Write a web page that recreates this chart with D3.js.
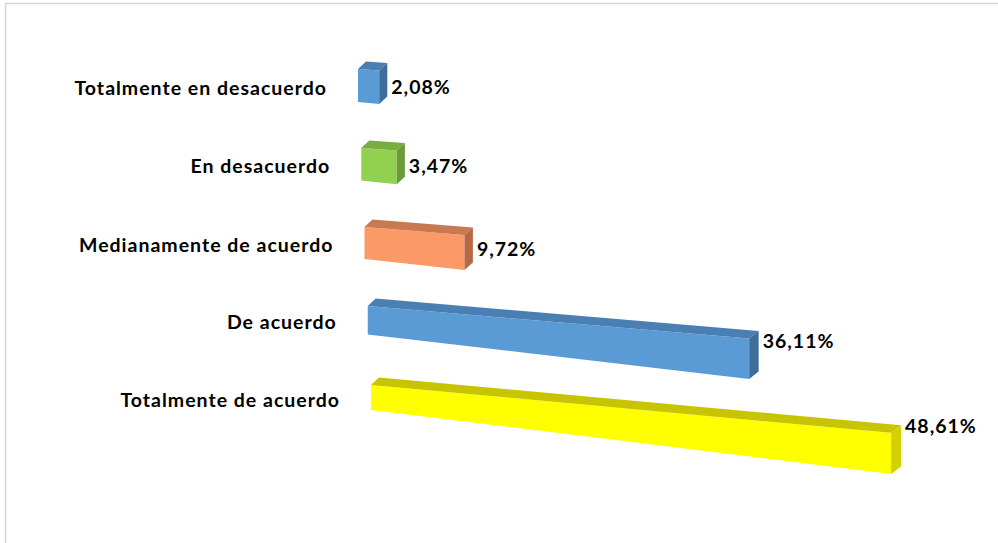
<!DOCTYPE html>
<html>
<head>
<meta charset="utf-8">
<script src="https://cdn.jsdelivr.net/npm/d3@7"></script>
<style>
  html, body { margin: 0; padding: 0; background: #fff; }
  svg { display: block; }
  text { font-family: Lato, "Open Sans", sans-serif; font-weight: 700; fill: #000; letter-spacing: 1px; }
</style>
</head>
<body>
<svg id="chart" width="998" height="543"></svg>
<script>
// Survey answers, top to bottom
const categories = [
  "Totalmente en desacuerdo",
  "En desacuerdo",
  "Medianamente de acuerdo",
  "De acuerdo",
  "Totalmente de acuerdo"
];
const values = [2.08, 3.47, 9.72, 36.11, 48.61];

// Face shading per bar: front, top, right end
const frontColors = ["#5B9BD5", "#92D050", "#FC9A67", "#5B9BD5", "#FFFF00"];
const topColors   = ["#4A7FB3", "#78AD42", "#C9794F", "#4A7FB3", "#C8C400"];
const sideColors  = ["#3F6C98", "#6A9B38", "#B56841", "#3F6C98", "#D4D100"];

const svg = d3.select("#chart");
const W = 998, H = 543;

// Frame
svg.append("rect")
  .attr("x", 5.5).attr("y", 3.5)
  .attr("width", W + 10).attr("height", H + 10)
  .attr("fill", "#fff").attr("stroke", "#D6D6D6").attr("stroke-width", 1.5);

// Scales
const xScale = d3.scaleLinear().domain([0, 50]).range([0, 509.5]);
const band = d3.scaleBand().domain(categories).range([69, 464]).paddingInner(0);
const startX = d3.scaleLinear().domain([69, 385]).range([358, 371]);
const leftHeight = d3.scaleLinear().domain([0, 2, 4]).range([33, 32, 25]);
const topSlope = d3.scaleLinear().domain([0, 4]).range([0.066, 0.092]);
const growth = 0.031;
const depthX = d3.scaleLinear().domain([0, 520]).range([8, 10]);
const depthY = -7.5;
const persp = u => u / (1 - 9.6e-5 * u);   // foreshortening along the value axis

// Projected point of bar i: L = on-screen length, w = 0 top .. 1 bottom, d = 0 front .. 1 back
function pt(i, L, w, d) {
  const top = band(categories[i]);
  const yTop = top + topSlope(i) * L;
  const yBot = top + leftHeight(i) + (topSlope(i) + growth) * L;
  const x = startX(top) + L + depthX(L) * d;
  const y = yTop + (yBot - yTop) * w + depthY * d;
  return [x, y];
}

const line = d3.line();
const fmt = d3.formatLocale({ decimal: ",", thousands: ".", grouping: [3], currency: ["", "€"] }).format(".2f");

const bars = svg.append("g").selectAll("g")
  .data(values.map((v, i) => ({ v, i, L: persp(xScale(v)) })))
  .join("g");

// front face
bars.append("path")
  .attr("d", d => line([pt(d.i, 0, 0, 0), pt(d.i, d.L, 0, 0), pt(d.i, d.L, 1, 0), pt(d.i, 0, 1, 0)]) + "Z")
  .attr("fill", d => frontColors[d.i]);
// top face
bars.append("path")
  .attr("d", d => line([pt(d.i, 0, 0, 0), pt(d.i, d.L, 0, 0), pt(d.i, d.L, 0, 1), pt(d.i, 0, 0, 1)]) + "Z")
  .attr("fill", d => topColors[d.i]);
// right end face
bars.append("path")
  .attr("d", d => line([pt(d.i, d.L, 0, 0), pt(d.i, d.L, 0, 1), pt(d.i, d.L, 1, 1), pt(d.i, d.L, 1, 0)]) + "Z")
  .attr("fill", d => sideColors[d.i]);

// value labels
bars.append("text")
  .attr("x", d => pt(d.i, d.L, 0, 1)[0] + 4)
  .attr("y", d => band(categories[d.i]) + leftHeight(d.i) / 2 + 0.055 * d.L)
  .attr("dy", "0.36em")
  .attr("font-size", 19.5)
  .text(d => fmt(d.v) + "%");

// category labels
svg.append("g").selectAll("text")
  .data(categories)
  .join("text")
  .attr("x", (c) => startX(band(c)) - 31)
  .attr("y", (c, i) => band(c) + leftHeight(i) / 2 + 2)
  .attr("dy", "0.36em")
  .attr("text-anchor", "end")
  .attr("font-size", 19.5)
  .text(c => c);
</script>
</body>
</html>
